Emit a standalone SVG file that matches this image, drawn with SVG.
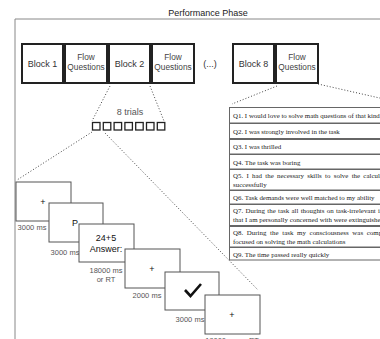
<svg xmlns="http://www.w3.org/2000/svg" width="380" height="339" viewBox="0 0 380 339">
  <style>
    .title { font-family: "Liberation Sans", Arial, sans-serif; font-size: 9px; fill: #222; }
    .blk { fill: #fff; stroke: #222; stroke-width: 2; }
    .blabel { font-family: "Liberation Sans", Arial, sans-serif; font-size: 9px; fill: #333; text-anchor: middle; }
    .flabel { font-family: "Liberation Sans", Arial, sans-serif; font-size: 8.3px; fill: #444; text-anchor: middle; }
    .sq { fill: #fff; stroke: #222; stroke-width: 1.3; }
    .screen { fill: #fff; stroke: #555; stroke-width: 1; }
    .stext { font-family: "Liberation Sans", Arial, sans-serif; font-size: 9px; fill: #111; text-anchor: middle; }
    .cap { font-family: "Liberation Sans", Arial, sans-serif; font-size: 7.5px; fill: #555; text-anchor: middle; }
    .row { fill: #fff; stroke: #666; stroke-width: 1; }
    .q { font-family: "Liberation Serif", "Times New Roman", serif; font-size: 6.9px; fill: #222; }
    .dot { fill: none; stroke: #444; stroke-width: 1; stroke-dasharray: 1 2; }
  </style>

  <!-- phase frame and heading -->
  <g id="frame">
    <text class="title" x="208" y="16" text-anchor="middle">Performance Phase</text>
    <path d="M15 339 V19 H380" fill="none" stroke="#888" stroke-width="1"/>
  </g>

  <!-- connectors -->
  <g id="connectors">
    <line class="dot" x1="110" y1="86" x2="92" y2="121"/>
    <line class="dot" x1="150" y1="86" x2="164" y2="121"/>
    <line class="dot" x1="92" y1="132" x2="17" y2="180"/>
    <line class="dot" x1="105" y1="133" x2="258" y2="290"/>
    <line class="dot" x1="277" y1="86" x2="232" y2="104"/>
    <line class="dot" x1="318" y1="84" x2="384" y2="99"/>
  </g>

  <!-- block sequence -->
  <g id="block1">
    <rect class="blk" x="22" y="44" width="41" height="39"/>
    <text class="blabel" x="42.5" y="67">Block 1</text>
  </g>
  <g id="flow1">
    <rect class="blk" x="65" y="44" width="42" height="39"/>
    <text class="flabel" x="86" y="60">Flow</text>
    <text class="flabel" x="86" y="70">Questions</text>
  </g>
  <g id="block2">
    <rect class="blk" x="109" y="44" width="41" height="39"/>
    <text class="blabel" x="129.5" y="67">Block 2</text>
  </g>
  <g id="flow2">
    <rect class="blk" x="152" y="44" width="42" height="39"/>
    <text class="flabel" x="173" y="60">Flow</text>
    <text class="flabel" x="173" y="70">Questions</text>
  </g>
  <g id="ellipsis">
    <text class="blabel" x="210" y="67">(...)</text>
  </g>
  <g id="block8">
    <rect class="blk" x="233" y="44" width="41" height="39"/>
    <text class="blabel" x="253.5" y="67">Block 8</text>
  </g>
  <g id="flow8">
    <rect class="blk" x="276" y="44" width="42" height="39"/>
    <text class="flabel" x="297" y="60">Flow</text>
    <text class="flabel" x="297" y="70">Questions</text>
  </g>

  <!-- eight trials -->
  <g id="trials">
    <text x="130" y="115" text-anchor="middle" font-family="Liberation Sans, Arial, sans-serif" font-size="9" fill="#555">8 trials</text>
    <rect class="sq" x="92.5" y="122.5" width="7.5" height="7.5"/>
    <rect class="sq" x="103.3" y="122.5" width="7.5" height="7.5"/>
    <rect class="sq" x="114.1" y="122.5" width="7.5" height="7.5"/>
    <rect class="sq" x="124.9" y="122.5" width="7.5" height="7.5"/>
    <rect class="sq" x="135.7" y="122.5" width="7.5" height="7.5"/>
    <rect class="sq" x="146.5" y="122.5" width="7.5" height="7.5"/>
    <rect class="sq" x="157.3" y="122.5" width="7.5" height="7.5"/>
  </g>

  <!-- trial screens -->
  <g id="screen1">
    <rect class="screen" x="16" y="182" width="55" height="39"/>
    <text class="stext" x="43" y="205">+</text>
    <text class="cap" x="32" y="230">3000 ms</text>
  </g>
  <g id="screen2">
    <rect class="screen" x="49" y="203" width="54" height="39"/>
    <text class="stext" x="75" y="226">P</text>
    <text class="cap" x="65" y="255">3000 ms</text>
  </g>
  <g id="screen3">
    <rect class="screen" x="79" y="224" width="55" height="38"/>
    <text class="stext" x="106" y="241">24+5</text>
    <text class="stext" x="106" y="252">Answer:</text>
    <text class="cap" x="106" y="273">18000 ms</text>
    <text class="cap" x="106" y="282">or RT</text>
  </g>
  <g id="screen4">
    <rect class="screen" x="125" y="249" width="55" height="39"/>
    <text class="stext" x="152" y="272">+</text>
    <text class="cap" x="147" y="298">2000 ms</text>
  </g>
  <g id="screen5">
    <rect class="screen" x="165" y="272" width="54" height="38"/>
    <path d="M185 290 L190.5 296 L201 284" fill="none" stroke="#111" stroke-width="2.6"/>
    <text class="cap" x="190" y="322">3000 ms</text>
  </g>
  <g id="screen6">
    <rect class="screen" x="205" y="295" width="55" height="39"/>
    <text class="stext" x="232" y="318">+</text>
    <text class="cap" x="232" y="343">18000 ms or RT</text>
  </g>

  <!-- flow questionnaire -->
  <g id="questions">
    <rect class="row" x="229.5" y="107.5" width="200" height="15.5"/>
    <text class="q" x="233" y="118">Q1. I would love to solve math questions of that kind again</text>
    <rect class="row" x="229.5" y="123.5" width="200" height="15"/>
    <text class="q" x="233" y="133.5">Q2. I was strongly involved in the task</text>
    <rect class="row" x="229.5" y="139.5" width="200" height="14.5"/>
    <text class="q" x="233" y="149">Q3. I was thrilled</text>
    <rect class="row" x="229.5" y="154.5" width="200" height="14.5"/>
    <text class="q" x="233" y="165">Q4. The task was boring</text>
    <rect class="row" x="229.5" y="169.5" width="200" height="20.5"/>
    <text class="q" x="233" y="178" word-spacing="1.6">Q5. I had the necessary skills to solve the calculations</text>
    <text class="q" x="233" y="186.5">successfully</text>
    <rect class="row" x="229.5" y="190.5" width="200" height="13.5"/>
    <text class="q" x="233" y="200">Q6. Task demands were well matched to my ability</text>
    <rect class="row" x="229.5" y="204.5" width="200" height="21"/>
    <text class="q" x="233" y="213" word-spacing="0.6">Q7. During the task all thoughts on task-irrelevant issues</text>
    <text class="q" x="233" y="222">that I am personally concerned with were extinguished</text>
    <rect class="row" x="229.5" y="226.5" width="200" height="20.5"/>
    <text class="q" x="233" y="235" word-spacing="2">Q8. During the task my consciousness was completely</text>
    <text class="q" x="233" y="243.5">focused on solving the math calculations</text>
    <rect class="row" x="229.5" y="247.5" width="200" height="12.5"/>
    <text class="q" x="233" y="256.5">Q9. The time passed really quickly</text>
  </g>
</svg>
